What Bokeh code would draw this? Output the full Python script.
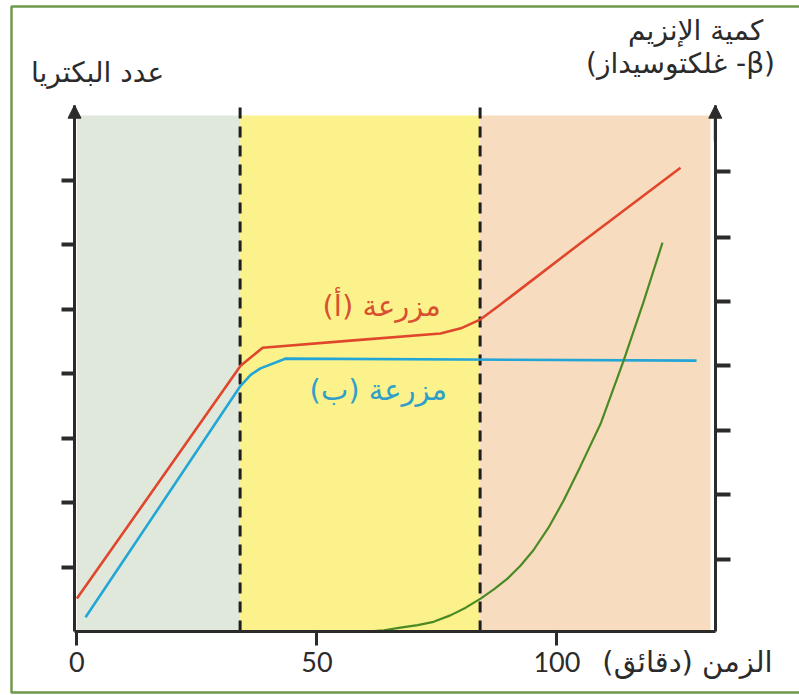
from bokeh.plotting import figure
from bokeh.models import LinearAxis, FixedTicker, Label, Arrow, NormalHead, BoxAnnotation
from bokeh.embed import file_html
from bokeh.resources import INLINE

# ---------------- data ----------------
# time in minutes
red_t = [0, 34.1, 38.7, 57.0, 75.75, 80.0, 84.1, 88.25, 104.9, 125.75]
red_n = [0.51, 4.12, 4.40, 4.51, 4.62, 4.70, 4.84, 5.07, 6.02, 7.19]
blue_t = [1.8, 34.1, 36.2, 38.25, 43.4, 129.1]
blue_n = [0.22, 3.81, 3.98, 4.08, 4.23, 4.20]
green_t = [60.5, 64.0, 67.4, 71.0, 74.3, 77.8, 81.0, 84.1, 87.0, 89.7, 92.4, 95.1, 98.25,
           101.4, 104.9, 109.1, 113.9, 118.0, 122.0]
green_e = [0.0, 0.02, 0.06, 0.10, 0.15, 0.25, 0.37, 0.51, 0.66, 0.82, 1.02, 1.26, 1.61,
           2.03, 2.56, 3.22, 4.20, 5.10, 6.03]

phase_bounds = [0, 34, 84, 132]
phase_colors = ["#dfe8db", "#fbf28c", "#f8dcc0"]
x_ticks = [0, 50, 100]
left_ticks = [1, 2, 3, 4, 5, 6, 7]
right_ticks = [1.12, 2.12, 3.12, 4.12, 5.12, 6.11, 7.13]

label_a = "مزرعة (أ)\u200f"
label_b = "مزرعة (ب)\u200f"
y_title = "عدد البكتريا"
enz_title_1 = "كمية الإنزيم"
enz_title_2 = "\u202b(β- غلكتوسيداز)\u202c"
x_title = "الزمن (دقائق)\u200f"

AR_FONT = "DejaVu Sans"
NUM_FONT = "Lato"
INK = "#2b2b2b"
X0, X1 = -0.5, 133.0     # axis positions (left / right)
YTOP = 8.16              # top of the vertical axes (arrow tips)

p = figure(width=799, height=695, x_range=(-15.917, 150.54), y_range=(-0.992, 9.783),
           output_backend="svg", toolbar_location=None,
           min_border_left=0, min_border_right=0, min_border_top=0, min_border_bottom=0)
p.outline_line_color = None
p.background_fill_color = "white"
p.border_fill_color = "white"
p.xgrid.visible = False
p.ygrid.visible = False

# phase shading
p.quad(left=phase_bounds[:-1], right=phase_bounds[1:], bottom=0, top=8.0,
       fill_color=phase_colors, line_color=None)

for b in phase_bounds[1:3]:
    p.segment(x0=b, y0=0, x1=b, y1=YTOP, line_color="#1e1e1e",
              line_width=3, line_dash="11 8")

p.line(red_t, red_n, line_color="#e0462b", line_width=2.6)
p.line(blue_t, blue_n, line_color="#23a6d5", line_width=2.6)
p.line(green_t, green_e, line_color="#4a8a22", line_width=2.2)

# axes
xa = p.xaxis[0]
xa.fixed_location = 0
xa.bounds = (X0, X1)
xa.ticker = FixedTicker(ticks=x_ticks)
xa.axis_line_width = 3
xa.axis_line_color = INK
xa.major_tick_line_width = 3
xa.major_tick_line_color = INK
xa.major_tick_out = 14
xa.major_tick_in = 0
xa.minor_tick_line_color = None
xa.major_label_text_font = NUM_FONT
xa.major_label_text_font_size = "27px"
xa.major_label_text_color = INK
xa.major_label_standoff = 6

ya = p.yaxis[0]
ya.fixed_location = X0
ya.bounds = (0, YTOP)
ya.ticker = FixedTicker(ticks=left_ticks)
ya.major_label_overrides = {t: "" for t in left_ticks}
ya.axis_line_width = 3
ya.axis_line_color = INK
ya.major_tick_line_width = 4
ya.major_tick_line_color = INK
ya.major_tick_out = 13
ya.major_tick_in = 0
ya.minor_tick_line_color = None

ra = LinearAxis(ticker=FixedTicker(ticks=right_ticks), fixed_location=X1, bounds=(0, YTOP))
ra.major_label_overrides = {t: "" for t in right_ticks}
ra.axis_line_width = 3
ra.axis_line_color = INK
ra.major_tick_line_width = 4
ra.major_tick_line_color = INK
ra.major_tick_out = 15
ra.major_tick_in = 0
ra.minor_tick_line_color = None
p.add_layout(ra, "right")

for xx in (X0, X1):
    p.add_layout(Arrow(end=NormalHead(size=13, fill_color=INK, line_color=INK),
                       x_start=xx, y_start=7.6, x_end=xx, y_end=YTOP,
                       line_color=INK, line_width=3))

def lab(x, y, text, color=INK, size="28px", font=AR_FONT):
    p.add_layout(Label(x=x, y=y, text=text, text_align="center", text_baseline="middle",
                       text_font=font, text_font_size=size, text_color=color))

lab(4.3, 8.67, y_title)
lab(128.9, 9.32, enz_title_1)
lab(125.75, 8.81, enz_title_2)
lab(63.5, 5.05, label_a, color="#d8502f", size="29px")
lab(62.8, 3.74, label_b, color="#2f9fc8", size="29px")
lab(127.2, -0.48, x_title, size="29px")

# page frame
p.add_layout(BoxAnnotation(left=11, right=1000, top=6, bottom=692,
                           left_units="canvas", right_units="canvas",
                           top_units="canvas", bottom_units="canvas",
                           fill_color=None, line_color="#6f9a4c", line_alpha=1.0,
                           line_width=2.5))

open("out.html", "w").write(file_html(p, INLINE))
